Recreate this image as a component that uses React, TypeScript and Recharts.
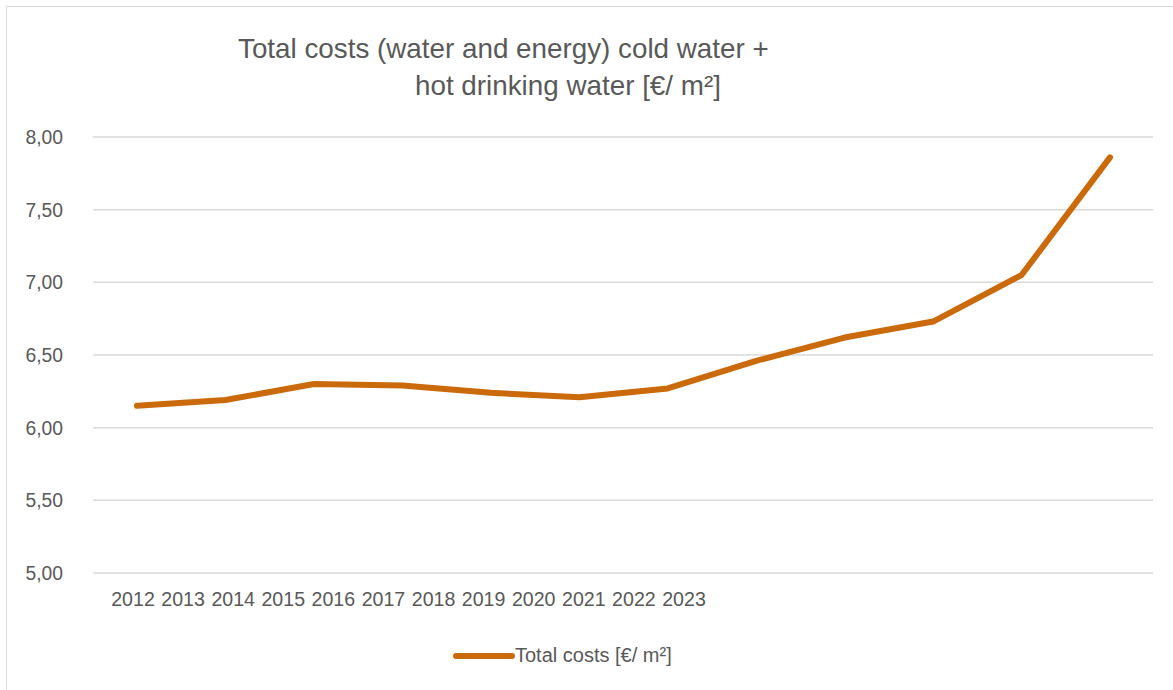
import { LineChart, Line, XAxis, YAxis, CartesianGrid, Legend } from 'recharts';

const years = ['2012', '2013', '2014', '2015', '2016', '2017', '2018', '2019', '2020', '2021', '2022', '2023'];
const totalCosts = [6.15, 6.19, 6.3, 6.29, 6.24, 6.21, 6.27, 6.46, 6.62, 6.73, 7.05, 7.86];
const yTicks = [5, 5.5, 6, 6.5, 7, 7.5, 8];

const titleLines = ['Total costs (water and energy) cold water +', 'hot drinking water [€/ m²]'];
const seriesName = 'Total costs [€/ m²]';

const LINE_COLOR = '#CB6A0B';
const TEXT_COLOR = '#595959';
const FONT = '"Liberation Sans", Arial, sans-serif';

function formatComma(v: number) {
    return Number(v).toFixed(2).replace('.', ',');
}

function LegendContent() {
    return (
        <div style={{ display: 'flex', alignItems: 'center', fontFamily: FONT, fontSize: 20, color: TEXT_COLOR }}>
            <svg width={62} height={12} style={{ display: 'block' }}>
                <line x1={3} y1={6} x2={59} y2={6} stroke={LINE_COLOR} strokeWidth={6} strokeLinecap="round" />
            </svg>
            <span>{seriesName}</span>
        </div>
    );
}

export default function App() {
    const rows = years.map((year, i) => ({ year, value: totalCosts[i] }));

    return (
        <div
            style={{
                position: 'absolute',
                left: 0,
                top: 0,
                width: 1173,
                height: 690,
                overflow: 'hidden',
                background: '#fff',
                fontFamily: FONT,
            }}
        >
            <div
                style={{
                    position: 'absolute',
                    left: 6,
                    top: 6,
                    width: 1200,
                    height: 720,
                    border: '1.5px solid #d9d9d9',
                }}
            />
            <div style={{ position: 'absolute', left: 238, top: 35, fontSize: 27.8, lineHeight: '28px', color: TEXT_COLOR, whiteSpace: 'nowrap' }}>
                {titleLines[0]}
            </div>
            <div style={{ position: 'absolute', left: 415, top: 72, fontSize: 27.8, lineHeight: '28px', color: TEXT_COLOR, whiteSpace: 'nowrap' }}>
                {titleLines[1]}
            </div>

            <div style={{ position: 'absolute', left: 0, top: 0 }}>
                <LineChart
                    width={1173}
                    height={690}
                    data={rows}
                    margin={{ top: 137, right: 20, left: 0, bottom: 87 }}
                >
                    <CartesianGrid xAxisId="main" vertical={false} stroke="#d9d9d9" strokeWidth={1.5} />
                    <XAxis xAxisId="main" dataKey="year" hide padding={{ left: 44, right: 43 }} />
                    <XAxis
                        xAxisId="labels"
                        dataKey="year"
                        interval={0}
                        axisLine={false}
                        tickLine={false}
                        tickSize={6}
                        tickMargin={13}
                        height={30}
                        padding={{ left: 40, right: 469 }}
                        tick={{ fontSize: 19.6, fill: TEXT_COLOR, fontFamily: FONT }}
                    />
                    <YAxis
                        domain={[5, 8]}
                        ticks={yTicks}
                        width={93}
                        axisLine={false}
                        tickLine={false}
                        tickSize={6}
                        tickMargin={24}
                        tickFormatter={formatComma}
                        tick={{ fontSize: 19.3, fill: TEXT_COLOR, fontFamily: FONT }}
                    />
                    <Legend
                        layout="vertical"
                        align="center"
                        verticalAlign="middle"
                        wrapperStyle={{ position: 'absolute', left: 453, top: 644, width: 'auto' }}
                        content={() => <LegendContent />}
                    />
                    <Line
                        xAxisId="main"
                        type="linear"
                        dataKey="value"
                        name={seriesName}
                        stroke={LINE_COLOR}
                        strokeWidth={6}
                        strokeLinecap="round"
                        strokeLinejoin="round"
                        dot={false}
                        activeDot={false}
                        isAnimationActive={false}
                    />
                </LineChart>
            </div>
        </div>
    );
}
